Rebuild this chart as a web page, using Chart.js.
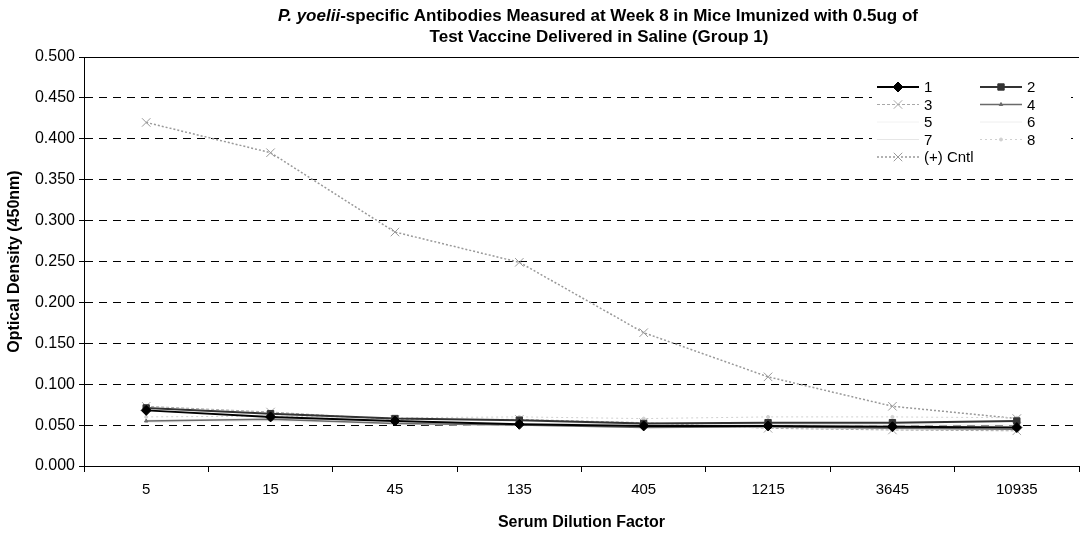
<!DOCTYPE html>
<html>
<head>
<meta charset="utf-8">
<script src="https://cdn.jsdelivr.net/npm/chart.js@4/dist/chart.umd.min.js"></script>
<style>
html,body{margin:0;padding:0;background:#fff}
#wrap{width:1086px;height:537px}
</style>
</head>
<body>
<div id="wrap"><canvas id="c"></canvas></div>
<script>
const dilutions = ["5","15","45","135","405","1215","3645","10935"]

const mouse1 = [0.068,0.060,0.055,0.051,0.049,0.049,0.048,0.047]
const mouse2 = [0.071,0.064,0.058,0.056,0.052,0.053,0.053,0.055]
const mouse3 = [0.073,0.066,0.057,0.057,0.053,0.046,0.044,0.043]
const mouse4 = [0.055,0.057,0.052,0.050,0.047,0.048,0.046,0.045]
const mouse5 = [0.053,0.055,0.051,0.049,0.048,0.047,0.045,0.044]
const mouse6 = [0.054,0.056,0.053,0.051,0.050,0.050,0.049,0.048]
const mouse7 = [0.056,0.058,0.054,0.052,0.051,0.051,0.050,0.050]
const mouse8 = [0.060,0.061,0.059,0.060,0.058,0.060,0.060,0.059]
const posCntl = [0.420,0.383,0.286,0.249,0.163,0.109,0.073,0.058]

const seriesNames = ["1","2","3","4","5","6","7","8","(+) Cntl"]

const FONT = "'Liberation Sans',Arial,sans-serif"

function series(label, data, color, width, style, radius, dash){
  return {
    label:label,
    data:data,
    borderColor:color,
    backgroundColor:color,
    borderWidth:width,
    borderDash:dash||[],
    pointStyle:style,
    pointRadius:radius,
    pointBorderColor:color,
    pointBackgroundColor:color,
    pointBorderWidth:1,
    tension:0,
    fill:false
  }
}

/* title with italic species name */
const titlePlugin = {
  id:"twoLineTitle",
  afterDraw(chart){
    const ctx = chart.ctx
    ctx.save()
    ctx.fillStyle = "#000"
    ctx.textBaseline = "middle"
    const it = "P. yoelii"
    const rest = "-specific Antibodies Measured at Week 8 in Mice Imunized with 0.5ug of"
    ctx.font = "italic bold 17px " + FONT
    const w1 = ctx.measureText(it).width
    ctx.font = "bold 17px " + FONT
    const w2 = ctx.measureText(rest).width
    let x = 598 - (w1 + w2)/2
    ctx.textAlign = "left"
    ctx.font = "italic bold 17px " + FONT
    ctx.fillText(it, x, 16)
    ctx.font = "bold 17px " + FONT
    ctx.fillText(rest, x + w1, 16)
    ctx.textAlign = "center"
    ctx.fillText("Test Vaccine Delivered in Saline (Group 1)", 599, 37)
    ctx.restore()
  }
}

/* solid frame line along the top of the plot */
const topLine = {
  id:"topLine",
  beforeDatasetsDraw(chart){
    const a = chart.chartArea, ctx = chart.ctx
    ctx.save()
    ctx.strokeStyle = "#000"
    ctx.lineWidth = 1
    ctx.beginPath()
    ctx.moveTo(a.left, a.top + 0.5)
    ctx.lineTo(a.right, a.top + 0.5)
    ctx.stroke()
    ctx.restore()
  }
}

/* legend inside the plot, two columns */
const boxLegend = {
  id:"boxLegend",
  afterDatasetsDraw(chart){
    const a = chart.chartArea, ctx = chart.ctx
    ctx.save()
    ctx.fillStyle = "#fff"
    ctx.fillRect(a.right - 207, a.top + 17, 199, 94)
    ctx.font = "15px " + FONT
    ctx.textBaseline = "middle"
    ctx.textAlign = "left"
    chart.data.datasets.forEach((ds, i) => {
      const col = i < 8 ? i % 2 : 0
      const row = Math.floor(i / 2)
      const x0 = a.right - 202 + col * 103
      const y = a.top + 30 + row * 17.5
      ctx.strokeStyle = ds.borderColor
      ctx.lineWidth = ds.borderWidth
      ctx.setLineDash(ds.borderDash || [])
      ctx.beginPath()
      ctx.moveTo(x0, y)
      ctx.lineTo(x0 + 42, y)
      ctx.stroke()
      ctx.setLineDash([])
      if (ds.pointRadius > 0 && Chart.helpers && Chart.helpers.drawPoint) {
        ctx.fillStyle = ds.pointBackgroundColor
        ctx.strokeStyle = ds.pointBorderColor
        ctx.lineWidth = 1
        Chart.helpers.drawPoint(ctx, {pointStyle:ds.pointStyle, radius:ds.pointRadius, rotation:0, borderWidth:1}, x0 + 21, y)
      }
      ctx.fillStyle = "#000"
      ctx.fillText(ds.label, x0 + 47, y + 1)
    })
    ctx.restore()
  }
}

new Chart(document.getElementById("c"), {
  type:"line",
  data:{
    labels:dilutions,
    datasets:[
      series(seriesNames[0], mouse1, "#000000", 2, "rectRot", 5),
      series(seriesNames[1], mouse2, "#333333", 2, "rect", 4.5),
      series(seriesNames[2], mouse3, "#a8a8a8", 1, "crossRot", 6, [3,2]),
      series(seriesNames[3], mouse4, "#6a6a6a", 1.5, "triangle", 2),
      series(seriesNames[4], mouse5, "#f2f2f2", 1, "circle", 0),
      series(seriesNames[5], mouse6, "#eeeeee", 1, "circle", 0),
      series(seriesNames[6], mouse7, "#e6e6e6", 1, "circle", 0),
      series(seriesNames[7], mouse8, "#d0d0d0", 1, "circle", 1.5, [2,3]),
      series(seriesNames[8], posCntl, "#999999", 1.5, "crossRot", 6, [2,2])
    ]
  },
  options:{
    responsive:true,
    maintainAspectRatio:false,
    animation:false,
    layout:{padding:{top:57,right:0,left:0,bottom:0}},
    plugins:{
      legend:{display:false},
      title:{display:false},
      tooltip:{enabled:false}
    },
    scales:{
      x:{
        offset:true,
        grid:{offset:true, drawOnChartArea:false, drawTicks:true, tickLength:6, color:"#000"},
        border:{display:true, color:"#000", width:1},
        ticks:{color:"#000", font:{family:FONT, size:15}, padding:9, maxRotation:0, autoSkip:false},
        title:{display:true, text:"Serum Dilution Factor", color:"#000", font:{family:FONT, size:16, weight:"bold"}, padding:{top:0,bottom:5}},
        afterFit(scale){ scale.height = 71 }
      },
      y:{
        min:0,
        max:0.5,
        ticks:{stepSize:0.05, color:"#000", font:{family:FONT, size:16}, padding:4,
          callback:v => Number(v).toFixed(3)},
        grid:{color:"#000", lineWidth:1, tickLength:5},
        border:{display:true, color:"#000", width:1, dash:[8,6]},
        title:{display:true, text:"Optical Density (450nm)", color:"#000", font:{family:FONT, size:16, weight:"bold"}, padding:{top:5,bottom:0}},
        afterFit(scale){ scale.width = 84 }
      }
    }
  },
  plugins:[titlePlugin, topLine, boxLegend]
})
</script>
</body>
</html>
